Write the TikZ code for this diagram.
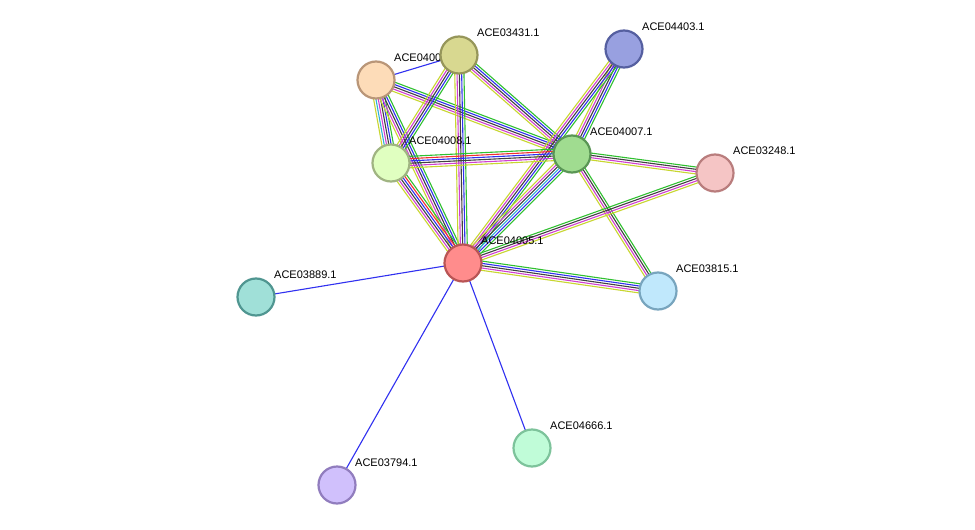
\documentclass[tikz,border=0pt]{standalone}
\usepackage{fontspec}
\setmainfont{Liberation Sans}
\usetikzlibrary{calc}
\definecolor{eY}{HTML}{C8D630}
\definecolor{eM}{HTML}{D040D0}
\definecolor{eK}{HTML}{404040}
\definecolor{eB}{HTML}{3030F0}
\definecolor{eG}{HTML}{30C030}
\definecolor{eR}{HTML}{F03030}
\definecolor{eL}{HTML}{30B0D8}
\newcommand\bund[4]{%
  \foreach \c [count=\i] in {#4} {
    \pgfmathsetmacro\o{(\i-(#3+1)/2)*2.3}
    \draw[color=\c,line width=1.1pt] ($(#1)!\o pt!90:(#2)$) -- ($(#2)!\o pt!-90:(#1)$);
  }}
\tikzset{
  prot/.style={circle,minimum size=37pt,inner sep=0pt,line width=2.2pt},
  lab/.style={anchor=west,font=\fontsize{11}{12}\selectfont,inner sep=0pt}
}
\begin{document}
\begin{tikzpicture}[x=1pt,y=-1pt]
\useasboundingbox[fill=white] (0,0) rectangle (975,530);
\coordinate (n3431) at (459,55);
\coordinate (n4403) at (624,49);
\coordinate (n4006) at (376,80);
\coordinate (n4008) at (391,163);
\coordinate (n4007) at (572,154);
\coordinate (n3248) at (715,173);
\coordinate (n4005) at (463,263);
\coordinate (n3889) at (256,297);
\coordinate (n3815) at (658,291);
\coordinate (n4666) at (532,448);
\coordinate (n3794) at (337,485);
% edges
\draw[eB,line width=1.1pt] (n4006) -- (n3431);
\draw[eB,line width=1.1pt] (n4005) -- (n3889);
\draw[eB,line width=1.1pt] (n4005) -- (n3794);
\draw[eB,line width=1.1pt] (n4005) -- (n4666);
\bund{n4006}{n4008}{6}{eY,eL,eM,eK,eB,eG}
\bund{n4006}{n4005}{5}{eY,eM,eK,eB,eG}
\bund{n4006}{n4007}{5}{eY,eM,eK,eB,eG}
\bund{n3431}{n4008}{5}{eY,eM,eK,eB,eG}
\bund{n3431}{n4005}{5}{eY,eM,eK,eB,eG}
\bund{n3431}{n4007}{5}{eY,eM,eK,eB,eG}
\bund{n4403}{n4007}{5}{eY,eM,eK,eB,eG}
\bund{n4403}{n4005}{5}{eY,eM,eK,eB,eG}
\bund{n4008}{n4007}{6}{eY,eM,eK,eB,eR,eG}
\bund{n4008}{n4005}{6}{eY,eM,eK,eB,eR,eG}
\bund{n4007}{n4005}{6}{eY,eM,eK,eL,eB,eG}
\bund{n4007}{n3248}{4}{eY,eM,eK,eG}
\bund{n4007}{n3815}{4}{eY,eM,eK,eG}
\bund{n4005}{n3248}{4}{eY,eM,eK,eG}
\bund{n4005}{n3815}{5}{eY,eM,eK,eB,eG}
% labels
\foreach \n/\t in {n3431/ACE03431.1,n4403/ACE04403.1,n4006/ACE04006.1,n4008/ACE04008.1,n4007/ACE04007.1,n3248/ACE03248.1,n4005/ACE04005.1,n3889/ACE03889.1,n3815/ACE03815.1,n4666/ACE04666.1,n3794/ACE03794.1}
  \node[lab] (l\n) at ($(\n)+(18,-22)$) {\t};
% nodes
\node[prot,fill={rgb,255:red,216;green,216;blue,144},draw={rgb,255:red,150;green,150;blue,90}] (a3431) at (n3431) {};
\node[prot,fill={rgb,255:red,152;green,160;blue,224},draw={rgb,255:red,85;green,95;blue,160}] (a4403) at (n4403) {};
\node[prot,fill={rgb,255:red,253;green,220;blue,184},draw={rgb,255:red,185;green,150;blue,120}] (a4006) at (n4006) {};
\node[prot,fill={rgb,255:red,224;green,255;blue,192},draw={rgb,255:red,160;green,180;blue,130}] (a4008) at (n4008) {};
\node[prot,fill={rgb,255:red,160;green,220;blue,144},draw={rgb,255:red,90;green,150;blue,85}] (a4007) at (n4007) {};
\node[prot,fill={rgb,255:red,245;green,197;blue,197},draw={rgb,255:red,185;green,125;blue,125}] (a3248) at (n3248) {};
\node[prot,fill={rgb,255:red,255;green,140;blue,140},draw={rgb,255:red,185;green,85;blue,85}] (a4005) at (n4005) {};
\node[prot,fill={rgb,255:red,160;green,224;blue,216},draw={rgb,255:red,80;green,150;blue,145}] (a3889) at (n3889) {};
\node[prot,fill={rgb,255:red,192;green,232;blue,252},draw={rgb,255:red,120;green,165;blue,190}] (a3815) at (n3815) {};
\node[prot,fill={rgb,255:red,192;green,252;blue,216},draw={rgb,255:red,125;green,195;blue,155}] (a4666) at (n4666) {};
\node[prot,fill={rgb,255:red,208;green,192;blue,252},draw={rgb,255:red,145;green,125;blue,190}] (a3794) at (n3794) {};
\end{tikzpicture}
\end{document}
